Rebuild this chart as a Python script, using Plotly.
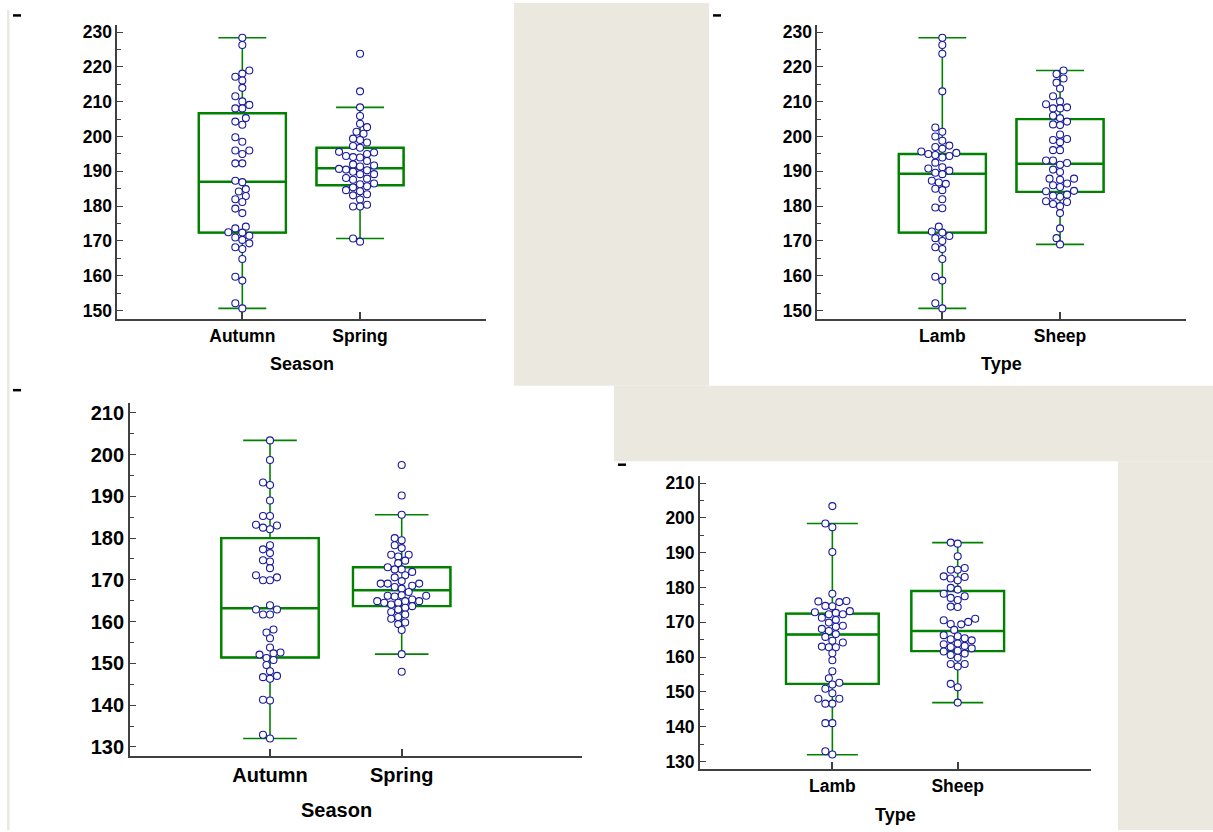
import plotly.graph_objects as go

W, H = 1213, 832

# ---------------- data ----------------
season_cats = ["Autumn", "Spring"]
type_cats = ["Lamb", "Sheep"]

# upper measurement, by season
top_autumn = [228.4, 226.3, 219.0, 218.1, 217.2, 216.1, 214.0, 211.6, 210.1, 209.1,
              208.1, 208.1, 205.3, 204.3, 203.4, 199.8, 198.5, 196.0, 196.0, 195.0,
              192.3, 192.3, 187.3, 186.9, 184.9, 184.2, 182.9, 182.0, 181.2, 179.3,
              178.0, 174.1, 173.6, 172.5, 172.4, 171.5, 171.0, 170.3, 169.3, 168.2,
              167.7, 164.8, 159.7, 158.6, 152.1, 150.6]
top_spring = [223.8, 213.0, 208.4, 205.9, 203.7, 202.7, 201.4, 200.8, 199.4, 199.0,
              198.3, 197.3, 196.8, 195.6, 195.4, 195.0, 194.4, 194.1, 194.0, 193.0,
              192.0, 191.7, 191.4, 190.7, 190.5, 190.3, 189.9, 189.2, 189.2, 188.1,
              187.9, 187.6, 186.5, 186.3, 185.7, 185.4, 184.6, 184.3, 183.4, 183.1,
              181.9, 180.4, 179.9, 179.9, 170.7, 169.8]
# upper measurement, by type
top_lamb = [228.4, 226.3, 223.8, 213.0, 202.6, 201.4, 200.0, 198.8, 197.4, 197.0,
            196.5, 195.7, 195.3, 195.0, 194.7, 194.4, 194.0, 192.5, 191.2, 190.8,
            190.2, 189.6, 189.2, 187.3, 186.8, 186.4, 185.0, 184.6, 182.0, 179.6,
            179.4, 174.1, 172.7, 172.4, 171.4, 170.8, 170.0, 168.2, 167.7, 164.8,
            159.7, 158.6, 152.1, 150.6]
top_sheep = [219.0, 218.0, 216.7, 215.5, 213.8, 211.6, 210.1, 209.3, 208.4, 208.1,
             208.1, 206.0, 205.3, 204.3, 203.5, 203.3, 200.6, 199.3, 199.0, 198.4,
             196.1, 196.1, 193.1, 193.1, 192.4, 191.9, 190.5, 189.8, 187.9, 187.9,
             187.6, 186.5, 186.0, 185.5, 184.4, 184.3, 183.3, 183.0, 182.7, 181.4,
             181.2, 180.6, 180.0, 178.0, 173.6, 170.8, 169.0]

# lower measurement, by season
bot_autumn = [203.4, 198.7, 193.3, 192.7, 189.0, 185.3, 185.3, 183.2, 183.0, 182.5,
              182.1, 178.3, 177.3, 176.4, 174.7, 174.4, 172.8, 171.1, 170.6, 169.9,
              169.9, 163.9, 162.9, 162.9, 161.7, 161.7, 158.1, 157.4, 156.0, 153.8,
              152.6, 152.4, 152.1, 151.3, 150.8, 149.6, 148.1, 147.0, 146.7, 146.3,
              141.3, 141.1, 132.9, 132.0]
bot_spring = [197.5, 190.2, 185.6, 180.0, 179.5, 178.3, 177.6, 176.0, 176.0, 175.6,
              174.6, 174.0, 173.0, 172.5, 172.5, 171.9, 171.1, 170.6, 169.7, 169.1,
              169.1, 169.1, 168.6, 168.3, 167.9, 167.1, 166.3, 166.2, 166.2, 166.0,
              165.3, 164.9, 164.9, 164.9, 164.5, 164.5, 164.1, 163.7, 163.3, 162.9,
              162.3, 161.7, 161.1, 160.7, 159.8, 159.4, 158.0, 152.2, 148.0]
# lower measurement, by type
bot_lamb = [203.4, 198.4, 197.3, 190.2, 178.2, 176.1, 176.0, 175.8, 174.7, 174.6,
            173.2, 172.9, 172.7, 172.3, 172.3, 171.3, 170.7, 169.9, 169.0, 168.7,
            168.1, 167.5, 166.6, 165.8, 164.7, 164.2, 163.0, 162.8, 162.8, 161.1,
            159.1, 155.9, 153.9, 152.6, 152.1, 150.9, 149.6, 148.0, 148.0, 146.6,
            146.6, 141.0, 141.0, 132.9, 132.0]
bot_sheep = [192.9, 192.6, 189.0, 185.6, 185.1, 185.1, 183.2, 183.0, 182.6, 182.1,
             179.9, 179.4, 178.2, 177.5, 177.0, 176.4, 174.5, 174.4, 171.0, 170.6,
             170.1, 169.5, 169.4, 167.8, 166.3, 166.0, 165.4, 165.1, 164.8, 163.9,
             163.7, 163.2, 162.9, 162.5, 161.8, 161.6, 161.0, 160.6, 159.8, 158.0,
             158.0, 157.3, 152.3, 151.3, 146.9]

# box summaries: lower whisker, Q1, median, Q3, upper whisker
top_autumn_box = [150.6, 172.4, 187.0, 206.7, 228.4]
top_spring_box = [170.7, 186.0, 190.9, 196.8, 208.4]
top_lamb_box = [150.6, 172.4, 189.3, 195.0, 228.4]
top_sheep_box = [169.0, 184.1, 192.2, 205.0, 219.0]
bot_autumn_box = [132.0, 151.4, 163.2, 180.0, 203.4]
bot_spring_box = [152.2, 163.7, 167.5, 173.0, 185.6]
bot_lamb_box = [131.9, 152.3, 166.5, 172.5, 198.4]
bot_sheep_box = [146.9, 161.7, 167.5, 179.0, 192.9]

# ---------------- styling ----------------
GREEN = "#008200"
NAVY = "#1b1b9e"
AXIS = "#404040"
BEIGE = "#ebe8df"
FONT = "Liberation Sans, Arial, sans-serif"
MARKER_D = 7.0

# panel geometry in pixels: plot-area left/right/top/bottom, ranges, font size
panels = [
    dict(cats=season_cats, groups=[top_autumn, top_spring], boxes=[top_autumn_box, top_spring_box],
         title="Season", left=117.3, right=486.0, top=21.7, bottom=317.7,
         xr=[-1.062, 2.07], yr=[147.62, 232.19], fs=17.5, title_x=301.7, title_y=362.7),
    dict(cats=type_cats, groups=[top_lamb, top_sheep], boxes=[top_lamb_box, top_sheep_box],
         title="Type", left=817.3, right=1186.0, top=21.7, bottom=317.7,
         xr=[-1.062, 2.07], yr=[147.62, 232.19], fs=17.5, title_x=1001.7, title_y=362.7),
    dict(cats=season_cats, groups=[bot_autumn, bot_spring], boxes=[bot_autumn_box, bot_spring_box],
         title="Season", left=130.0, right=582.0, top=402.3, bottom=757.7,
         xr=[-1.063, 2.369], yr=[127.78, 212.38], fs=20, title_x=336.3, title_y=812.3),
    dict(cats=type_cats, groups=[bot_lamb, bot_sheep], boxes=[bot_lamb_box, bot_sheep_box],
         title="Type", left=700.0, right=1090.7, top=475.7, bottom=771.0,
         xr=[-1.056, 2.061], yr=[127.71, 212.10], fs=17.5, title_x=895.8, title_y=816.7),
]


def fx(x):
    return x / W


def fy(y):
    return 1 - y / H


def swarm(values, ppu_x, ppu_y, d=MARKER_D, step=MARKER_D / 2):
    """Greedy beeswarm: horizontal offsets (data units) so markers don't overlap."""
    order = sorted(range(len(values)), key=lambda i: values[i])
    placed = []
    offs = [0.0] * len(values)
    cands = [0.0]
    for j in range(1, 40):
        cands += [-j * step, j * step]
    for i in order:
        yp = values[i] * ppu_y
        for c in cands:
            if all((c - a) ** 2 + (yp - b) ** 2 >= d * d * 0.92 for a, b in placed):
                break
        placed.append((c, yp))
        offs[i] = c / ppu_x
    return offs


fig = go.Figure()
layout = dict(
    width=W, height=H, margin=dict(l=0, r=0, t=0, b=0),
    paper_bgcolor="white", plot_bgcolor="rgba(0,0,0,0)", showlegend=False,
    font=dict(family=FONT, color="black"), boxmode="overlay",
)
annotations = []

for k, p in enumerate(panels, start=1):
    xa = "x" if k == 1 else f"x{k}"
    ya = "y" if k == 1 else f"y{k}"
    ppu_x = (p["right"] - p["left"]) / (p["xr"][1] - p["xr"][0])
    ppu_y = (p["bottom"] - p["top"]) / (p["yr"][1] - p["yr"][0])

    lo, q1, med, q3, hi = zip(*p["boxes"])
    # whiskers and caps (thinner stroke)
    fig.add_trace(go.Box(
        x=[0, 1], lowerfence=list(lo), q1=list(q1), median=list(med), q3=list(q3),
        upperfence=list(hi), width=0.74, whiskerwidth=0.55, boxpoints=False,
        line=dict(color=GREEN, width=1.6), fillcolor="rgba(0,0,0,0)",
        xaxis=xa, yaxis=ya, hoverinfo="skip",
    ))
    # box body and median (heavier stroke)
    fig.add_trace(go.Box(
        x=[0, 1], lowerfence=list(q1), q1=list(q1), median=list(med), q3=list(q3),
        upperfence=list(q3), width=0.74, whiskerwidth=0, boxpoints=False,
        line=dict(color=GREEN, width=2.4), fillcolor="rgba(0,0,0,0)",
        xaxis=xa, yaxis=ya, hoverinfo="skip",
    ))
    for gi, vals in enumerate(p["groups"]):
        offs = swarm(vals, ppu_x, ppu_y)
        fig.add_trace(go.Scatter(
            x=[gi + o for o in offs], y=vals, mode="markers",
            marker=dict(size=MARKER_D, color="white", line=dict(color=NAVY, width=1.1)),
            xaxis=xa, yaxis=ya, hoverinfo="skip",
        ))

    key_x = "xaxis" if k == 1 else f"xaxis{k}"
    key_y = "yaxis" if k == 1 else f"yaxis{k}"
    tickfont = dict(family=FONT, size=p["fs"], color="black", weight="bold")
    layout[key_x] = dict(
        domain=[fx(p["left"]), fx(p["right"])], anchor=ya, range=p["xr"],
        tickvals=[0, 1], ticktext=p["cats"], ticks="inside", ticklen=7, tickwidth=2,
        tickcolor=AXIS, showline=True, linecolor=AXIS, linewidth=2,
        showgrid=False, zeroline=False, tickfont=tickfont, fixedrange=True,
    )
    layout[key_y] = dict(
        domain=[fy(p["bottom"]), fy(p["top"])], anchor=xa, range=p["yr"],
        dtick=10, tick0=0, ticks="inside", ticklen=6, tickwidth=1, tickcolor=AXIS,
        minor=dict(dtick=5, tick0=0, ticks="inside", ticklen=4, tickwidth=1, tickcolor=AXIS),
        showline=True, linecolor=AXIS, linewidth=1.8,
        showgrid=False, zeroline=False, tickfont=tickfont, fixedrange=True,
    )
    annotations.append(dict(
        text=p["title"], x=fx(p["title_x"]), y=fy(p["title_y"]), xref="paper", yref="paper",
        xanchor="center", yanchor="middle", showarrow=False,
        font=dict(family=FONT, size=p["fs"] + (0.5 if k != 3 else 0), color="black", weight="bold"),
    ))

# window background: beige gaps between the white panels
shapes = []
for x0, y0, x1, y1 in [(514, 0, 709, 385), (614, 385, 1213, 461),
                       (1118, 461, 1213, 832), (7, 7, 9.5, 832)]:
    shapes.append(dict(type="rect", xref="paper", yref="paper",
                       x0=fx(x0), x1=fx(x1), y0=fy(y1), y1=fy(y0),
                       fillcolor=BEIGE, line=dict(width=0), layer="below"))
# small collapse dashes at each panel's corner
for x0, y in [(13, 12.5), (713, 12.5), (13, 389.5), (618, 464.5)]:
    shapes.append(dict(type="line", xref="paper", yref="paper",
                       x0=fx(x0), x1=fx(x0 + 8), y0=fy(y), y1=fy(y),
                       line=dict(color="black", width=2.5)))

layout["shapes"] = shapes
layout["annotations"] = annotations
fig.update_layout(**layout)
fig.write_html("out.html")
